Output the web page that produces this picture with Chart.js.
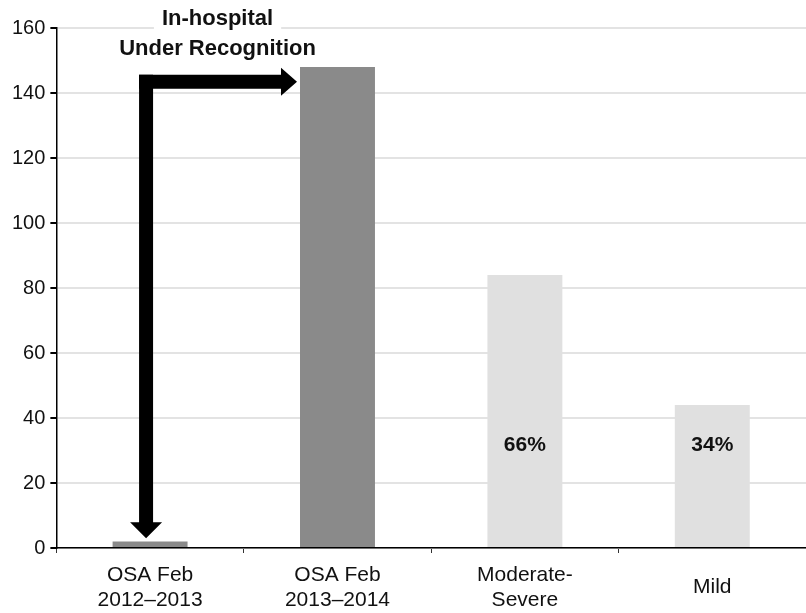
<!DOCTYPE html>
<html>
<head>
<meta charset="utf-8">
<script src="https://cdn.jsdelivr.net/npm/chart.js@4.4.0/dist/chart.umd.min.js"></script>
<style>
  body { margin: 0; background: #fff; }
  #wrap { width: 806px; height: 613px; }
</style>
</head>
<body>
<div id="wrap"><canvas id="chart"></canvas></div>
<script>
const categories = [['OSA Feb', '2012\u20132013'], ['OSA Feb', '2013\u20132014'], ['Moderate-', 'Severe'], 'Mild'];
const patients = [2, 148, 84, 44];
const shareLabels = ['', '', '66%', '34%'];
const barColors = ['#8a8a8a', '#8a8a8a', '#e0e0e0', '#e0e0e0'];
const yTicks = [0, 20, 40, 60, 80, 100, 120, 140, 160];

const FONT = '"Liberation Sans", Arial, sans-serif';

// percentages written inside the light bars
const shareLabelPlugin = {
    id: 'shareLabels',
    afterDatasetsDraw(chart) {
        const ctx = chart.ctx;
        const y = chart.scales.y.getPixelForValue(31.7);
        ctx.save();
        ctx.font = 'bold 21px ' + FONT;
        ctx.fillStyle = '#111';
        ctx.textAlign = 'center';
        ctx.textBaseline = 'middle';
        chart.getDatasetMeta(0).data.forEach((bar, i) => {
            if (shareLabels[i]) ctx.fillText(shareLabels[i], bar.x, y);
        });
        ctx.restore();
    }
};

// elbow arrow from the first bar to the second, with its caption
const arrowPlugin = {
    id: 'underRecognition',
    afterDatasetsDraw(chart) {
        const ctx = chart.ctx;
        const yScale = chart.scales.y;
        const bars = chart.getDatasetMeta(0).data;
        const sx = bars[0].x - 4;
        const sy = yScale.getPixelForValue(143.5);
        const tipY = yScale.getPixelForValue(3);
        const tipX = bars[1].x - bars[1].width / 2 - 3;
        const w = 7;
        const head = 16, headLen = 16;

        ctx.save();
        ctx.fillStyle = '#000';
        ctx.beginPath();
        // down arrow
        ctx.moveTo(sx - w, sy - w);
        ctx.lineTo(sx + w, sy - w);
        ctx.lineTo(sx + w, tipY - headLen);
        ctx.lineTo(sx + head, tipY - headLen);
        ctx.lineTo(sx, tipY);
        ctx.lineTo(sx - head, tipY - headLen);
        ctx.lineTo(sx - w, tipY - headLen);
        ctx.closePath();
        ctx.fill();
        // right arrow
        ctx.beginPath();
        ctx.moveTo(sx - w, sy - w);
        ctx.lineTo(tipX - headLen, sy - w);
        ctx.lineTo(tipX - headLen, sy - 14);
        ctx.lineTo(tipX, sy);
        ctx.lineTo(tipX - headLen, sy + 14);
        ctx.lineTo(tipX - headLen, sy + w);
        ctx.lineTo(sx - w, sy + w);
        ctx.closePath();
        ctx.fill();

        // caption
        const cx = (sx + tipX) / 2 - 4;
        ctx.font = 'bold 22px ' + FONT;
        const t1 = 'In-hospital';
        const t1w = ctx.measureText(t1).width;
        ctx.fillStyle = '#fff';
        ctx.fillRect(cx - t1w / 2 - 8, 0, t1w + 16, 34);
        ctx.fillStyle = '#111';
        ctx.textAlign = 'center';
        ctx.textBaseline = 'alphabetic';
        ctx.fillText(t1, cx, 25);
        ctx.fillText('Under Recognition', cx, 55);
        ctx.restore();
    }
};

new Chart(document.getElementById('chart'), {
    type: 'bar',
    data: {
        labels: categories,
        datasets: [{
            data: patients,
            backgroundColor: barColors,
            borderWidth: 0,
            barPercentage: 0.4,
            categoryPercentage: 1
        }]
    },
    options: {
        responsive: true,
        maintainAspectRatio: false,
        animation: false,
        layout: { padding: { top: 28, left: 7, right: 0, bottom: 0 } },
        plugins: {
            legend: { display: false },
            tooltip: { enabled: false }
        },
        scales: {
            x: {
                afterFit(scale) {
                    scale.height = 65;
                },
                border: { color: '#000', width: 1.5 },
                grid: {
                    drawOnChartArea: false,
                    tickColor: '#333',
                    tickLength: 5
                },
                ticks: {
                    color: '#111',
                    font: { family: FONT, size: 21 },
                    padding: 22,
                    crossAlign: 'center',
                    maxRotation: 0
                }
            },
            y: {
                min: 0,
                max: 160,
                afterBuildTicks(axis) {
                    axis.ticks = yTicks.map(v => ({ value: v }));
                },
                border: { color: '#000', width: 1.5 },
                grid: {
                    color: '#e3e3e3',
                    lineWidth: 2,
                    tickColor: '#000',
                    tickLength: 6
                },
                ticks: {
                    color: '#111',
                    font: { family: FONT, size: 20 },
                    padding: 5
                }
            }
        }
    },
    plugins: [shareLabelPlugin, arrowPlugin]
});
</script>
</body>
</html>
